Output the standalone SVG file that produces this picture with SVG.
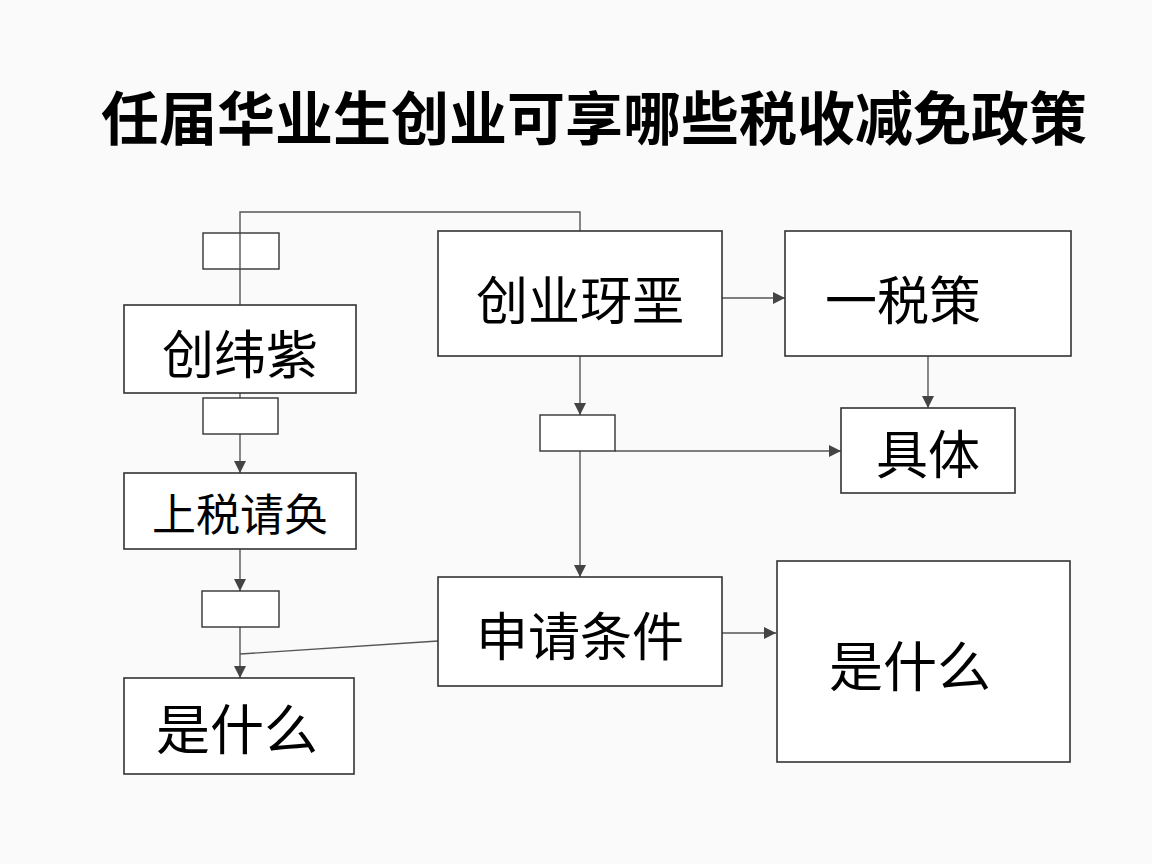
<svg xmlns="http://www.w3.org/2000/svg" width="1152" height="864" viewBox="0 0 1152 864">
<style>
.b{fill:#fff;stroke:#333;stroke-width:1.6}
.s{fill:#fff;stroke:#333;stroke-width:1.4}
.t{font-family:"Noto Sans CJK SC","Noto Sans",sans-serif;fill:#000;text-anchor:middle;dominant-baseline:central}
.c{fill:none;stroke:#555;stroke-width:1.4}
.h{font-family:"Noto Sans CJK SC",sans-serif;font-weight:bold;font-size:58px;fill:#000;text-anchor:middle}
</style>
<defs><marker id="a" viewBox="0 0 10 10" refX="10" refY="5" markerWidth="12" markerHeight="12" markerUnits="userSpaceOnUse" orient="auto"><path d="M0,0L10,5L0,10z" fill="#444"/></marker></defs>
<rect width="1152" height="864" fill="#fafafa"/>
<text class="h" x="594" y="140">任届华业生创业可享哪些税收减免政策</text>
<g id="connectors">
<path class="c" d="M240,305V212H580V231"/>
<path class="c" d="M240,393V398"/>
<path class="c" d="M240,434V473" marker-end="url(#a)"/>
<path class="c" d="M240,549V591" marker-end="url(#a)"/>
<path class="c" d="M240,627V678" marker-end="url(#a)"/>
<path class="c" d="M240,654L438,641"/>
<path class="c" d="M580,356V415" marker-end="url(#a)"/>
<path class="c" d="M580,451V577" marker-end="url(#a)"/>
<path class="c" d="M615,451H841" marker-end="url(#a)"/>
<path class="c" d="M722,298H785" marker-end="url(#a)"/>
<path class="c" d="M928,356V408" marker-end="url(#a)"/>
<path class="c" d="M722,633H776" marker-end="url(#a)"/>
</g>
<g id="sa"><rect class="s" x="203" y="233" width="76" height="36"/></g>
<g id="sb"><rect class="s" x="203" y="398" width="75" height="36"/></g>
<g id="sc"><rect class="s" x="202" y="591" width="77" height="36"/></g>
<g id="sd"><rect class="s" x="540" y="415" width="75" height="36"/></g>
<path class="c" d="M240,233V269"/>
<g id="n1"><rect class="b" x="124" y="305" width="232" height="88"/><text class="t" x="240" y="351" font-size="52">创纬紫</text></g>
<g id="n2"><rect class="b" x="124" y="473" width="232" height="76"/><text class="t" x="240" y="512" font-size="44">上税请奂</text></g>
<g id="n3"><rect class="b" x="124" y="678" width="230" height="96"/><text class="t" x="237" y="726" font-size="54">是什么</text></g>
<g id="n4"><rect class="b" x="438" y="231" width="284" height="125"/><text class="t" x="580" y="297" font-size="52">创业玡垩</text></g>
<g id="n5"><rect class="b" x="785" y="231" width="286" height="125"/><text class="t" x="903" y="297" font-size="52">一税策</text></g>
<g id="n6"><rect class="b" x="841" y="408" width="174" height="85"/><text class="t" x="928" y="451" font-size="52">具体</text></g>
<g id="n7"><rect class="b" x="438" y="577" width="284" height="109"/><text class="t" x="580" y="633" font-size="52">申请条件</text></g>
<g id="n8"><rect class="b" x="777" y="561" width="293" height="201"/><text class="t" x="910" y="663" font-size="54">是什么</text></g>
</svg>
